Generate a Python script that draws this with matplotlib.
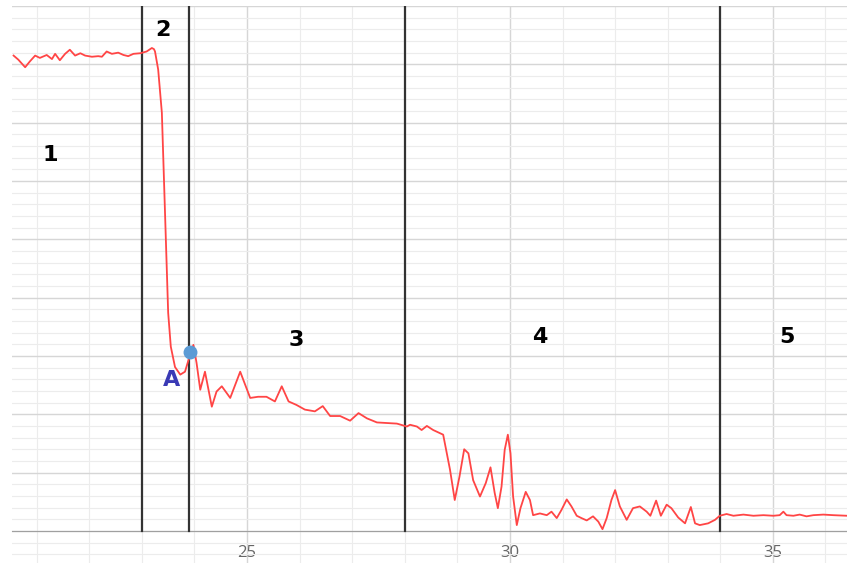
import matplotlib
matplotlib.use('Agg')
import matplotlib.pyplot as plt
from matplotlib.ticker import MultipleLocator

# signal trace
x = [20.56, 20.65, 20.78, 20.87, 20.97, 21.06, 21.19, 21.29, 21.35, 21.44, 21.54, 21.63, 21.73,
     21.83, 21.92, 22.05, 22.17, 22.24, 22.33, 22.43, 22.55, 22.65, 22.74, 22.84, 22.97, 23.09,
     23.19, 23.23, 23.25, 23.31, 23.38, 23.41, 23.44, 23.47, 23.50, 23.55, 23.63, 23.73, 23.82,
     23.90, 23.98, 24.04, 24.11, 24.20, 24.33, 24.42, 24.52, 24.68, 24.87, 25.06, 25.21, 25.37,
     25.53, 25.66, 25.79, 25.94, 26.10, 26.29, 26.44, 26.58, 26.77, 26.96, 27.12, 27.28, 27.47,
     27.66, 27.85, 28.04, 28.10, 28.23, 28.32, 28.42, 28.54, 28.73, 28.86, 28.95, 29.04, 29.13,
     29.21, 29.30, 29.43, 29.54, 29.63, 29.71, 29.77, 29.84, 29.90, 29.96, 30.01, 30.06, 30.13,
     30.20, 30.30, 30.38, 30.44, 30.57, 30.70, 30.79, 30.89, 30.98, 31.08, 31.17, 31.27, 31.36,
     31.46, 31.58, 31.68, 31.76, 31.84, 31.93, 32.00, 32.09, 32.22, 32.34, 32.47, 32.60, 32.67,
     32.78, 32.87, 32.98, 33.07, 33.20, 33.33, 33.44, 33.52, 33.61, 33.77, 33.90, 33.99, 34.12,
     34.25, 34.44, 34.63, 34.82, 35.01, 35.13, 35.20, 35.26, 35.39, 35.51, 35.64, 35.77, 35.96,
     36.15, 36.41]
y = [8.15, 8.08, 7.95, 8.05, 8.15, 8.11, 8.16, 8.09, 8.18, 8.07, 8.18, 8.25, 8.15,
     8.19, 8.15, 8.13, 8.14, 8.13, 8.22, 8.18, 8.20, 8.16, 8.14, 8.18, 8.19, 8.22,
     8.28, 8.26, 8.22, 7.91, 7.17, 6.31, 5.45, 4.60, 3.74, 3.16, 2.81, 2.68, 2.73,
     2.97, 3.19, 2.88, 2.42, 2.73, 2.13, 2.39, 2.48, 2.28, 2.73, 2.28, 2.30, 2.30,
     2.22, 2.48, 2.22, 2.16, 2.08, 2.05, 2.14, 1.97, 1.97, 1.89, 2.02, 1.93, 1.86,
     1.85, 1.84, 1.79, 1.82, 1.79, 1.73, 1.80, 1.73, 1.65, 1.05, 0.53, 0.93, 1.40,
     1.33, 0.87, 0.59, 0.82, 1.09, 0.65, 0.39, 0.76, 1.39, 1.65, 1.33, 0.59, 0.10,
     0.39, 0.67, 0.53, 0.27, 0.30, 0.27, 0.33, 0.22, 0.36, 0.54, 0.42, 0.26, 0.22,
     0.18, 0.25, 0.16, 0.03, 0.22, 0.53, 0.70, 0.42, 0.19, 0.39, 0.42, 0.33, 0.26,
     0.52, 0.26, 0.45, 0.39, 0.23, 0.13, 0.41, 0.13, 0.10, 0.13, 0.19, 0.26, 0.29,
     0.26, 0.28, 0.26, 0.27, 0.26, 0.27, 0.33, 0.27, 0.26, 0.28, 0.25, 0.27, 0.28,
     0.27, 0.26]

boundaries = [23, 23.9, 28, 34]
region_labels = ['1', '2', '3', '4', '5']
region_x = [21.25, 23.40, 25.93, 30.57, 35.27]
region_y = [6.45, 8.59, 3.28, 3.33, 3.33]
point_a = (23.92, 3.07)

fig = plt.figure(figsize=(8.47, 5.63), dpi=100)
ax = fig.add_axes([12 / 847, 0, 835 / 847, 557 / 563])
ax.set_xlim(20.53, 36.41)
ax.set_ylim(-0.55, 9.0)

ax.xaxis.set_major_locator(MultipleLocator(5))
ax.xaxis.set_minor_locator(MultipleLocator(1))
ax.yaxis.set_major_locator(MultipleLocator(1))
ax.yaxis.set_minor_locator(MultipleLocator(0.2))
ax.grid(which='major', color='#d6d6d6', lw=1.0)
ax.grid(which='minor', color='#ececec', lw=0.8)
ax.set_axisbelow(True)

for s in ['left', 'right', 'top']:
    ax.spines[s].set_visible(False)
ax.spines['bottom'].set_position(('data', 0))
ax.spines['bottom'].set_color('#a0a0a0')
ax.tick_params(which='both', length=0)
ax.tick_params(axis='x', pad=10, labelsize=12, labelcolor='#666666')
ax.set_yticklabels([])
for lab in ax.get_xticklabels():
    lab.set_family('Open Sans')

for b in boundaries:
    ax.plot([b, b], [0, 9], color='#333333', lw=1.6, zorder=3)

ax.plot(x, y, color='#ff4545', lw=1.3, zorder=4)
ax.plot(*point_a, 'o', color='#5b9bd5', ms=9, zorder=5)
ax.text(point_a[0] - 0.35, point_a[1] - 0.48, 'A', color='#3a3ab5', fontsize=16,
        fontweight='heavy', ha='center', va='center')

for lab, lx, ly in zip(region_labels, region_x, region_y):
    ax.text(lx, ly, lab, fontsize=16, fontweight='heavy', ha='center', va='center', color='black')

fig.savefig('out.png', dpi=100)
